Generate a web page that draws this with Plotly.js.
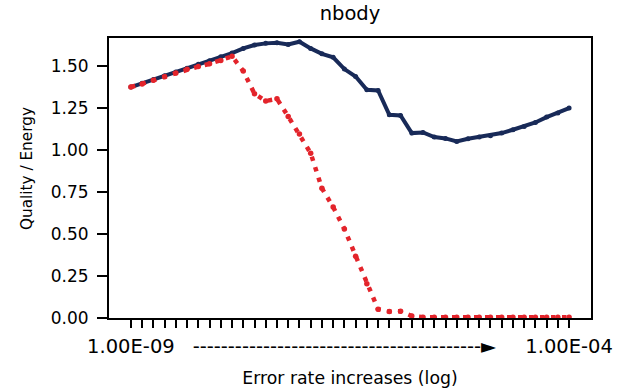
<!DOCTYPE html>
<html>
<head>
<meta charset="utf-8">
<script src="https://cdn.plot.ly/plotly-3.0.1.min.js"></script>
<style>html,body{margin:0;padding:0;background:#fff;}#chart{width:619px;height:389px;}</style>
</head>
<body>
<div id="chart"></div>
<script>
// Error-rate steps (log scale), 40 steps from 1e-9 to 1e-4
const stepIndex = [0,1,2,3,4,5,6,7,8,9,10,11,12,13,14,15,16,17,18,19,20,21,22,23,24,25,26,27,28,29,30,31,32,33,34,35,36,37,38,39];

const seriesBlue = [1.375,1.397,1.420,1.442,1.465,1.487,1.510,1.532,1.555,1.577,
                    1.605,1.625,1.635,1.638,1.628,1.645,1.605,1.573,1.552,1.482,
                    1.438,1.359,1.355,1.210,1.206,1.101,1.105,1.077,1.069,1.051,
                    1.067,1.077,1.085,1.101,1.121,1.140,1.164,1.196,1.220,1.250];

const seriesRed  = [1.375,1.393,1.415,1.437,1.459,1.481,1.497,1.513,1.533,1.558,
                    1.470,1.335,1.292,1.305,1.200,1.096,0.981,0.772,0.661,0.530,
                    0.368,0.204,0.052,0.038,0.040,0.012,0.004,0.004,0.004,0.004,
                    0.004,0.004,0.004,0.004,0.004,0.004,0.004,0.004,0.004,0.004];

const labelIndex = [0, 19, 39];
const labelText = ["1.00E-09", "-----------------------------------------\u25BA", "1.00E-04"];

const tickText = stepIndex.map(i => {
  const k = labelIndex.indexOf(i);
  return k >= 0 ? labelText[k] : "";
});

const font = "DejaVu Sans, sans-serif";

const traces = [
  {
    x: stepIndex, y: seriesBlue, type: "scatter", mode: "lines+markers",
    line: {color: "#182a58", width: 4},
    marker: {color: "#182a58", size: 5},
    hoverinfo: "skip"
  },
  {
    x: stepIndex, y: seriesRed, type: "scatter", mode: "lines+markers",
    line: {color: "#e3242b", width: 4.5, dash: "4.5px,6.5px"},
    marker: {color: "#e3242b", size: 5.5},
    hoverinfo: "skip"
  }
];

const layout = {
  width: 619, height: 389,
  margin: {l: 109, r: 28, t: 38, b: 71, pad: 0},
  paper_bgcolor: "#fff", plot_bgcolor: "#fff",
  showlegend: false,
  title: {text: "nbody", font: {family: font, size: 19.5, color: "#000"}, x: 0.5, xref: "paper", xanchor: "center", y: 0.965, yref: "container", yanchor: "middle"},
  xaxis: {
    range: [-1.95, 40.95], showgrid: false, zeroline: false,
    tickmode: "array", tickvals: stepIndex, ticktext: tickText,
    ticks: "outside", ticklen: 8, tickwidth: 2, tickcolor: "#000",
    showline: true, linecolor: "#000", linewidth: 2, mirror: true,
    tickfont: {family: font, size: 19.5, color: "#000"},
    ticklabelstandoff: 2,
    tickangle: 0,
    title: {text: "Error rate increases (log)", font: {family: font, size: 17.3, color: "#000"}, standoff: 14.5}
  },
  yaxis: {
    range: [0, 1.667], showgrid: false, zeroline: false,
    tick0: 0, dtick: 0.25, tickformat: ".2f",
    ticks: "outside", ticklen: 10, tickwidth: 2, tickcolor: "#000",
    showline: true, linecolor: "#000", linewidth: 2, mirror: true,
    tickfont: {family: font, size: 17, color: "#000"},
    ticklabelstandoff: 5
  },
  annotations: [{
    text: "Quality / Energy", textangle: -90, showarrow: false,
    xref: "paper", yref: "paper", x: -0.170, y: 0.532,
    xanchor: "center", yanchor: "middle",
    font: {family: font, size: 15.3, color: "#000"}
  }]
};

Plotly.newPlot("chart", traces, layout, {staticPlot: true, displayModeBar: false});
</script>
</body>
</html>
